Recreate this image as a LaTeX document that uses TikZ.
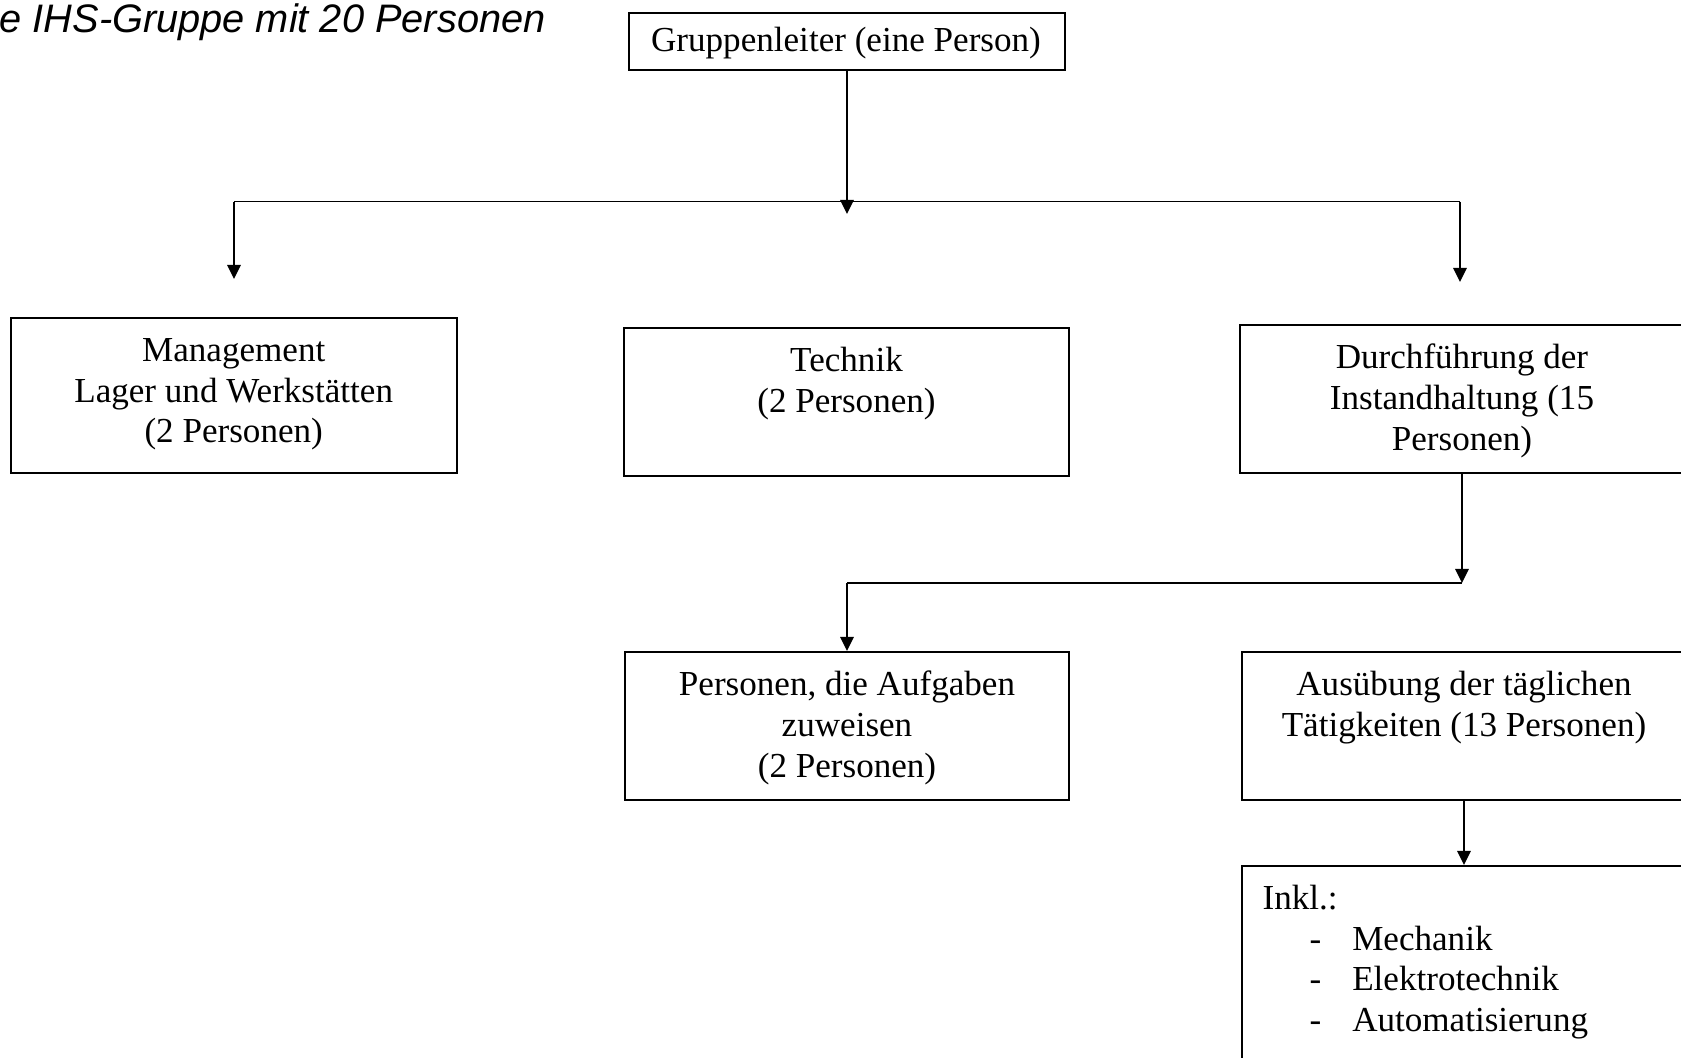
\documentclass[tikz,border=0pt]{standalone}
\usepackage{fontspec}
\setmainfont{Liberation Serif}
\newfontfamily\titlefont{Liberation Sans}
\usetikzlibrary{arrows.meta}
\begin{document}
\begin{tikzpicture}[x=0.342pt, y=-0.342pt,
  box/.style={draw, line width=0.75pt, rectangle, inner sep=0pt},
  txt/.style={inner sep=0pt, align=center, font=\fontsize{12pt}{13.92pt}\selectfont},
  itemtxt/.style={inner sep=0pt, anchor=base west, font=\fontsize{12pt}{13.92pt}\selectfont},
  link/.style={line width=0.6pt},
  arr/.style={link, -{Triangle[length=4.8pt, width=4.6pt]}}]
\useasboundingbox (0,0) rectangle (1681,1058);

% heading
\node[inner sep=0pt, anchor=base west, font=\titlefont\itshape\fontsize{13.6pt}{16pt}\selectfont] (title) at (-1,32) {e IHS-Gruppe mit 20 Personen};

% boxes
\node[box, minimum width={436*0.342pt}, minimum height={57*0.342pt}] (lead) at (847,41.5) {};
\node[box, minimum width={446*0.342pt}, minimum height={155*0.342pt}] (mgmt) at (233.7,395.5) {};
\node[box, minimum width={445*0.342pt}, minimum height={148*0.342pt}] (tech) at (846.5,402) {};
\node[box, minimum width={444*0.342pt}, minimum height={148*0.342pt}] (durch) at (1462,399) {};
\node[box, minimum width={444*0.342pt}, minimum height={148*0.342pt}] (pers) at (847,726) {};
\node[box, minimum width={444*0.342pt}, minimum height={148*0.342pt}] (ausu) at (1464,726) {};
\node[box, minimum width={444*0.342pt}, minimum height={214*0.342pt}] (inkl) at (1464,973) {};

% box texts
\node[txt] (leadT) at (846,43) {Gruppenleiter (eine Person)};
\node[txt] (mgmtT) at (233.7,394.5) {Management\\Lager und Werkstätten\\(2 Personen)};
\node[txt] (techT) at (846.5,383.5) {Technik\\(2 Personen)};
\node[txt] (durchT) at (1462,400.7) {Durchführung der\\Instandhaltung (15\\Personen)};
\node[txt] (persT) at (847,727.7) {Personen, die Aufgaben\\zuweisen\\(2 Personen)};
\node[txt] (ausuT) at (1464,707.5) {Ausübung der täglichen\\Tätigkeiten (13 Personen)};
\node[itemtxt] (inklT) at (1262,909) {Inkl.:};
\node[itemtxt] (itemA) at (1309,950) {\makebox[14.6pt][l]{-}Mechanik};
\node[itemtxt] (itemB) at (1309,990.5) {\makebox[14.6pt][l]{-}Elektrotechnik};
\node[itemtxt] (itemC) at (1309,1031) {\makebox[14.6pt][l]{-}Automatisierung};

% joints of the connectors
\coordinate (rowA) at (0,201.5);
\coordinate (rowAtip) at (0,214);
\coordinate (rowB) at (0,583);
\coordinate (busL) at (234,201.5);
\coordinate (busR) at (1460,201.5);
\coordinate (dropL) at (234,279);
\coordinate (dropR) at (1460,282);
\coordinate (leadTip) at (lead.south |- rowAtip);
\coordinate (durchTip) at (durch.south |- rowB);
\coordinate (busB) at (pers.north |- rowB);

% connectors
\draw[arr] (lead.south) -- (leadTip);
\draw[link] (busL) -- (busR);
\draw[arr] (busL) -- (dropL);
\draw[arr] (busR) -- (dropR);
\draw[arr] (durch.south) -- (durchTip);
\draw[link] (busB) -- (durchTip);
\draw[arr] (busB) -- (pers.north);
\draw[arr] (ausu.south) -- (inkl.north);
\end{tikzpicture}
\end{document}
